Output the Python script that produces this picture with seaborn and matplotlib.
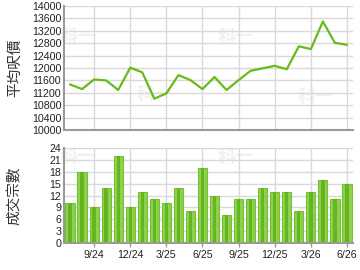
import matplotlib
matplotlib.use("Agg")
import matplotlib.pyplot as plt
import seaborn as sns
import pandas as pd
import numpy as np

months = ["7/24", "8/24", "9/24", "10/24", "11/24", "12/24",
          "1/25", "2/25", "3/25", "4/25", "5/25", "6/25",
          "7/25", "8/25", "9/25", "10/25", "11/25", "12/25",
          "1/26", "2/26", "3/26", "4/26", "5/26", "6/26"]
avg_price = [11470, 11320, 11630, 11600, 11290, 12010,
             11860, 11010, 11180, 11770, 11610, 11320,
             11710, 11290, 11610, 11910, 11990, 12070,
             11960, 12700, 12610, 13500, 12810, 12750]
deals = [10, 18, 9, 14, 22, 9, 13, 11, 10, 14, 8, 19,
         12, 7, 11, 11, 14, 13, 13, 8, 13, 16, 11, 15]
tick_labels = ["9/24", "12/24", "3/25", "6/25", "9/25", "12/25", "3/26", "6/26"]
price_ticks = list(range(10000, 14001, 400))
deal_ticks = list(range(0, 25, 3))

sns.set_theme(style="white")
plt.rcParams['font.family'] = ['Liberation Sans', 'Noto Sans CJK TC', 'DejaVu Sans']

df = pd.DataFrame({"month": months, "idx": np.arange(len(months)),
                   "price": avg_price, "deals": deals})

fig = plt.figure(figsize=(3.6, 2.7), dpi=100)
ax1 = fig.add_axes([64/360, 1-130/270, 289/360, 124/270])
ax2 = fig.add_axes([64/360, 1-243/270, 289/360, 95/270])

grid_c = "#d9d9d9"
spine_c = "#9a9a9a"
tick_pos = [months.index(t) for t in tick_labels]

for ax in (ax1, ax2):
    ax.set_xlim(-0.5, len(months) - 0.5)
    for s in ("top", "right"):
        ax.spines[s].set_visible(False)
    for s in ("left", "bottom"):
        ax.spines[s].set_color(spine_c)
        ax.spines[s].set_linewidth(1.5)
    ax.set_facecolor("white")

# faint watermark behind everything
wm_kw = dict(color="#f1f1f1", fontsize=13, fontweight="bold",
             family=['Noto Sans CJK TC'], zorder=0.2, ha="center", va="center",
             transform=fig.transFigure, clip_on=False)
for (x, y) in [(78, 36), (155, 95), (236, 36), (316, 96)]:
    ax1.text(x/360, 1-y/270, "科一", **wm_kw)
for (x, y) in [(78, 157), (155, 218), (236, 157), (316, 216)]:
    ax2.text(x/360, 1-y/270, "科一", **wm_kw)

# top: line
sns.lineplot(data=df, x="idx", y="price", ax=ax1, color="#66bb1a",
             linewidth=1.6, zorder=3)
ax1.set_ylim(10000, 14000)
ax1.set_yticks(price_ticks)
ax1.set_yticklabels([str(v) for v in price_ticks])
ax1.set_xticks(tick_pos)
ax1.set_xticklabels([])
ax1.grid(True, color=grid_c, linewidth=1)
ax1.set_axisbelow(True)
ax1.tick_params(axis="y", length=0, pad=2, labelsize=7.7, labelcolor="#222222")
ax1.tick_params(axis="x", length=0)
ax1.set_xlabel("")
ax1.set_ylabel("平均呎價", fontsize=10.5, color="#333333")
ax1.yaxis.set_label_coords(-0.145, 0.5)

# bottom: bars
sns.barplot(data=df, x="month", y="deals", ax=ax2, color="#8fd14f",
            saturation=1, width=0.76, edgecolor="#74c236", linewidth=0.8,
            zorder=2)
sns.barplot(data=df, x="month", y="deals", ax=ax2, color="#64b520",
            saturation=1, width=0.28, linewidth=0, zorder=2.5)
ax2.set_ylim(0, 24)
ax2.set_yticks(deal_ticks)
ax2.set_yticklabels([str(v) for v in deal_ticks])
ax2.set_xticks(tick_pos)
ax2.set_xticklabels(tick_labels)
ax2.set_xlim(-0.5, len(months) - 0.5)
ax2.grid(True, color=grid_c, linewidth=1)
ax2.set_axisbelow(True)
ax2.tick_params(axis="y", length=0, pad=2, labelsize=7.7, labelcolor="#222222")
ax2.tick_params(axis="x", length=3, width=1, color=spine_c, pad=2,
                labelsize=7.7, labelcolor="#222222", bottom=True)
ax2.set_xlabel("")
ax2.set_ylabel("成交宗數", fontsize=10.5, color="#333333")
ax2.yaxis.set_label_coords(-0.145, 0.5)

fig.savefig("out.png", dpi=100)
